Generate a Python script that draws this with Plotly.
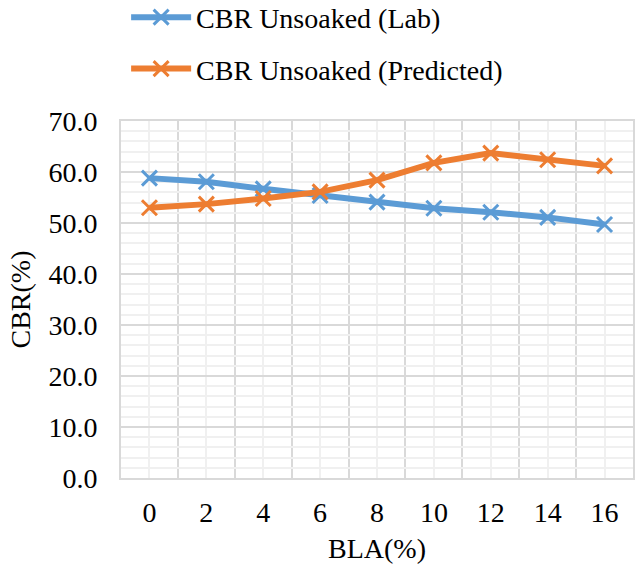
import plotly.graph_objects as go

bla = [0, 2, 4, 6, 8, 10, 12, 14, 16]
cbr_lab = [58.8, 58.1, 56.7, 55.4, 54.1, 52.9, 52.1, 51.1, 49.7]
cbr_pred = [53.0, 53.7, 54.8, 56.1, 58.4, 61.8, 63.7, 62.4, 61.2]
names = ["CBR Unsoaked (Lab)", "CBR Unsoaked (Predicted)"]
colors = ["#5B9BD5", "#ED7D31"]

FONT = "Times New Roman, Liberation Serif, serif"
TXT = dict(family=FONT, size=28, color="#000000")

fig = go.Figure()
for i, (vals, name) in enumerate(zip([cbr_lab, cbr_pred], names)):
    fig.add_trace(go.Scatter(
        x=bla, y=vals, name=name, mode="lines+markers",
        legendgroup=f"g{i}",
        line=dict(color=colors[i], width=6),
        marker=dict(symbol="x-thin", size=15, line=dict(color=colors[i], width=3), color=colors[i]),
    ))

fig.update_layout(
    width=636, height=567,
    margin=dict(l=121, r=3, t=121, b=89, autoexpand=False),
    paper_bgcolor="white", plot_bgcolor="white",
    font=TXT,
    showlegend=True,
    legend=dict(x=0.01, y=1.36, xanchor="left", yanchor="top",
                traceorder="grouped", tracegroupgap=12,
                font=TXT, itemwidth=60, bgcolor="rgba(0,0,0,0)"),
    xaxis=dict(
        range=[-1, 17], tickvals=bla, ticktext=[str(v) for v in bla],
        tickfont=TXT,
        showgrid=True, gridcolor="#F0F0F0", gridwidth=2,
        minor=dict(tick0=1, dtick=2, showgrid=True, gridcolor="#D9D9D9", gridwidth=2),
        showline=True, linecolor="#D9D9D9", linewidth=2, mirror=True,
        ticks="outside", ticklen=8, tickcolor="rgba(0,0,0,0)",
        zeroline=False,
        title=dict(text="BLA(%)", standoff=12, font=TXT),
    ),
    yaxis=dict(
        range=[0, 70], dtick=10, tickformat=".1f",
        tickfont=TXT,
        showgrid=True, gridcolor="#D9D9D9", gridwidth=2,
        minor=dict(dtick=2, showgrid=True, gridcolor="#F0F0F0", gridwidth=2),
        showline=True, linecolor="#D9D9D9", linewidth=2, mirror=True,
        ticks="outside", ticklen=16, tickcolor="rgba(0,0,0,0)",
        zeroline=False,
        title=dict(text="CBR(%)", standoff=10, font=TXT),
    ),
)

fig.write_html("out.html")
